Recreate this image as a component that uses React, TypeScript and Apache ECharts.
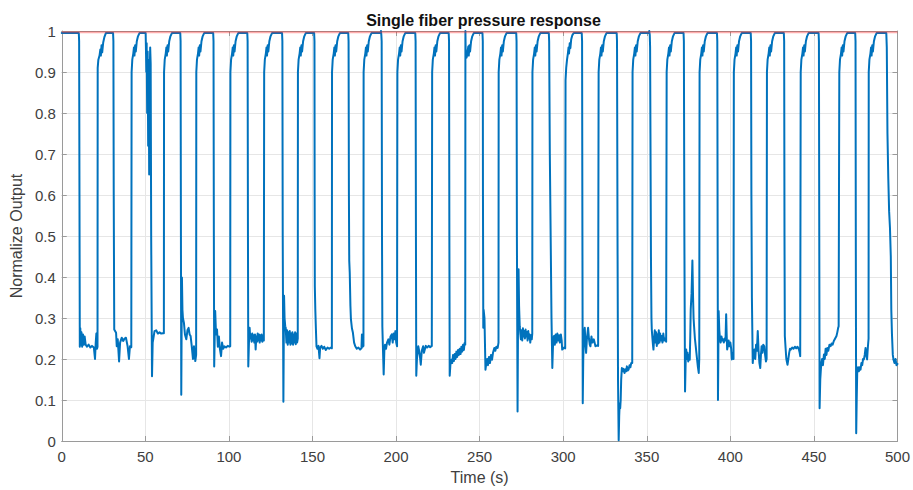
import React, { useEffect, useRef } from "react";
import * as echarts from "echarts";

const FONT = "'Liberation Sans', Arial, Helvetica, sans-serif";

const chartTitle = "Single fiber pressure response";
const xName = "Time (s)";
const yName = "Normalize Output";
const xMin = 0, xMax = 500, xStep = 50;
const yMin = 0, yMax = 1, yStep = 0.1;
const referenceLevel = 0.997;

// signal: [time (s), normalized output]
const segment0to100: number[][] = [
  [0,0.995],[10.2,0.995],[10.4,0.975],[10.6,0.6],[10.8,0.23],[11.1,0.275],[11.4,0.235],[11.8,0.265],[12.2,0.23],[12.7,0.26],[13.2,0.235],[13.7,0.255],[14.3,0.235],[15.1,0.23],[16.1,0.235],[17.1,0.228],[18.1,0.232],[19.2,0.228],[19.9,0.2],[20.3,0.238],[20.7,0.262],[21.1,0.225],[21.4,0.23],
  [21.5,0.91],[21.9,0.93],[22.6,0.94],[23.1,0.955],[23.4,0.94],[23.8,0.965],[24.2,0.948],[24.8,0.972],[25.5,0.985],[26.4,0.995],
  [30.7,0.995],[30.9,0.975],[31.1,0.6],[31.4,0.272],[32.5,0.264],[32.9,0.231],[33.5,0.248],[34.3,0.194],[34.9,0.24],[35.9,0.252],[36.8,0.244],[37.6,0.25],[38.4,0.252],[39.4,0.231],[40.2,0.2],[40.8,0.231],[41.6,0.229],
  [41.8,0.9],[42.2,0.93],[42.8,0.945],[43.2,0.96],[43.5,0.94],[43.9,0.965],[44.3,0.95],[44.9,0.975],[45.6,0.987],[46.5,0.995],
  [50.2,0.995],[50.4,0.95],[50.6,0.9],[50.8,0.97],[51.1,0.8],[51.4,0.95],[51.7,0.72],[52.0,0.93],[52.3,0.65],[52.6,0.88],[52.9,0.96],[53.2,0.92],[53.5,0.5],[54.0,0.158],[54.4,0.24],[54.8,0.25],[55.5,0.268],[56.5,0.27],[57.5,0.262],[58.5,0.265],[59.5,0.262],[60.5,0.263],[61.1,0.263],
  [61.2,0.9],[61.6,0.93],[62.2,0.945],[62.6,0.96],[62.9,0.94],[63.3,0.965],[63.7,0.95],[64.3,0.975],[65.0,0.987],[65.9,0.995],
  [70.9,0.995],[71.1,0.975],[71.3,0.5],[71.5,0.113],[71.9,0.399],[72.2,0.32],[72.5,0.3],[73.1,0.288],[73.7,0.26],[74.5,0.248],[75.2,0.27],[75.9,0.276],[76.5,0.26],[77.1,0.256],[77.8,0.23],[78.5,0.2],[79.1,0.231],[79.9,0.195],[80.4,0.21],
  [80.5,0.9],[80.9,0.93],[81.5,0.945],[81.9,0.96],[82.2,0.94],[82.6,0.965],[83.0,0.95],[83.6,0.975],[84.3,0.987],[85.2,0.995],
  [90.6,0.995],[90.8,0.975],[91.0,0.5],[91.2,0.182],[91.5,0.25],[91.8,0.317],[92.3,0.26],[92.9,0.272],[93.4,0.23],[94.0,0.255],[94.6,0.225],[95.3,0.207],[95.9,0.24],[96.6,0.225],[97.3,0.231],[98.3,0.228],[99.3,0.232],[100.3,0.23],[100.8,0.231],
];

const segment100to200: number[][] = [
  [100.9,0.9],[101.3,0.93],[101.9,0.945],[102.3,0.96],[102.6,0.94],[103.0,0.965],[103.4,0.95],[104.0,0.975],[104.7,0.987],[105.6,0.995],
  [111.0,0.995],[111.2,0.975],[111.4,0.5],[111.6,0.182],[112.0,0.24],[112.4,0.276],[112.8,0.25],[113.2,0.26],[113.6,0.242],[114.0,0.262],[114.4,0.245],[114.8,0.258],[115.2,0.24],[115.6,0.26],[116.0,0.223],[116.4,0.255],[116.8,0.242],[117.2,0.262],[117.6,0.245],[118.0,0.26],[118.4,0.24],[118.8,0.258],[119.2,0.245],[119.6,0.26],[120.0,0.242],[120.4,0.256],[120.9,0.245],
  [121.1,0.9],[121.5,0.93],[122.1,0.945],[122.5,0.96],[122.8,0.94],[123.2,0.965],[123.6,0.95],[124.2,0.975],[124.9,0.987],[125.8,0.995],
  [131.8,0.995],[132.0,0.975],[132.2,0.5],[132.6,0.096],[133.0,0.354],[133.3,0.3],[133.7,0.28],[134.0,0.276],[134.4,0.24],[134.8,0.27],[135.2,0.235],[135.6,0.265],[136.0,0.24],[136.4,0.268],[136.8,0.235],[137.2,0.262],[137.6,0.238],[138.0,0.265],[138.4,0.235],[138.8,0.26],[139.2,0.24],[139.6,0.265],[140.0,0.236],[140.4,0.262],[140.8,0.24],[141.2,0.25],
  [141.3,0.9],[141.7,0.93],[142.3,0.945],[142.7,0.96],[143.0,0.94],[143.4,0.965],[143.8,0.95],[144.4,0.975],[145.1,0.987],[146.0,0.995],
  [151.0,0.995],[151.2,0.975],[151.3,0.6],[151.4,0.378],[151.7,0.32],[152.0,0.28],[152.4,0.231],[153.0,0.225],[153.6,0.232],[154.2,0.202],[154.6,0.228],[155.4,0.232],[156.2,0.225],[157.0,0.23],[158.0,0.222],[159.0,0.228],[160.0,0.225],[161.0,0.228],[161.6,0.226],
  [161.7,0.9],[162.1,0.93],[162.7,0.945],[163.1,0.96],[163.4,0.94],[163.8,0.965],[164.2,0.95],[164.8,0.975],[165.5,0.987],[166.4,0.995],
  [171.4,0.995],[171.6,0.975],[171.8,0.6],[172.0,0.44],[172.3,0.41],[172.7,0.33],[173.0,0.297],[173.6,0.275],[174.2,0.264],[174.9,0.24],[175.6,0.231],[176.5,0.225],[177.5,0.228],[178.5,0.223],[179.3,0.226],[179.6,0.26],[180.0,0.23],[180.5,0.232],
  [180.6,0.9],[181.0,0.93],[181.6,0.945],[182.0,0.96],[182.3,0.94],[182.7,0.965],[183.1,0.95],[183.7,0.975],[184.4,0.987],[185.3,0.995],
  [190.8,0.995],[191.0,1.0],[191.2,0.99],[191.4,0.975],[191.6,0.5],[191.8,0.28],[192.2,0.22],[192.6,0.162],[193.0,0.22],[193.4,0.235],[194.0,0.225],[194.6,0.24],[195.4,0.248],[196.0,0.235],[196.7,0.255],[197.4,0.26],[198.0,0.24],[198.5,0.262],[199.0,0.248],[199.6,0.268],[200.1,0.24],[200.6,0.231],
];

const segment200to300: number[][] = [
  [200.8,0.9],[201.2,0.93],[201.8,0.945],[202.2,0.96],[202.5,0.94],[202.9,0.965],[203.3,0.95],[203.9,0.975],[204.6,0.987],[205.5,0.995],
  [211.5,0.995],[211.7,0.975],[211.9,0.5],[212.1,0.159],[212.5,0.2],[212.9,0.215],[213.3,0.231],[213.8,0.22],[214.2,0.21],[214.8,0.186],[215.4,0.22],[216.2,0.231],[216.7,0.215],[217.2,0.223],[217.8,0.232],[218.6,0.228],[219.5,0.232],[220.4,0.229],[221.4,0.232],
  [221.6,0.9],[222.0,0.93],[222.6,0.945],[223.0,0.96],[223.3,0.94],[223.7,0.965],[224.1,0.95],[224.7,0.975],[225.4,0.987],[226.3,0.995],
  [231.5,0.995],[231.7,0.975],[231.9,0.5],[232.1,0.159],[232.5,0.185],[233.1,0.198],[233.6,0.19],[234.1,0.21],[234.6,0.195],[235.1,0.212],[235.6,0.2],[236.1,0.218],[236.6,0.205],[237.1,0.222],[237.6,0.21],[238.1,0.225],[238.6,0.212],[239.1,0.23],[239.6,0.218],[240.1,0.235],[240.6,0.222],[241.0,0.239],[241.4,0.235],
  [241.5,1.0],[241.7,0.94],[242.2,0.935],[242.8,0.95],[243.2,0.962],[243.5,0.94],[243.9,0.965],[244.3,0.95],[244.9,0.975],[245.6,0.987],[246.5,0.995],
  [251.7,0.995],[251.9,0.975],[252.0,0.6],[252.2,0.276],[252.4,0.32],[252.9,0.3],[253.5,0.174],[254.0,0.19],[254.5,0.2],[255.0,0.185],[255.6,0.205],[256.2,0.19],[256.8,0.21],[257.4,0.198],[258.0,0.215],[258.8,0.227],[259.4,0.22],[260.0,0.23],[260.8,0.227],[261.3,0.24],
  [261.4,0.9],[261.8,0.93],[262.4,0.945],[262.8,0.96],[263.1,0.94],[263.5,0.965],[263.9,0.95],[264.5,0.975],[265.2,0.987],[266.1,0.995],
  [271.9,0.995],[272.1,0.975],[272.3,0.5],[272.7,0.072],[273.0,0.3],[273.3,0.419],[273.6,0.33],[274.0,0.28],[274.3,0.264],[274.7,0.248],[275.1,0.27],[275.5,0.245],[275.9,0.275],[276.3,0.255],[276.7,0.268],[277.1,0.25],[277.5,0.272],[277.9,0.255],[278.3,0.265],[278.7,0.245],[279.1,0.268],[279.5,0.25],[279.9,0.26],[280.3,0.24],[280.7,0.258],[281.2,0.248],[281.5,0.262],
  [281.6,0.9],[282.0,0.93],[282.6,0.945],[283.0,0.96],[283.3,0.94],[283.7,0.965],[284.1,0.95],[284.7,0.975],[285.4,0.987],[286.3,0.995],
  [291.4,0.995],[291.6,0.975],[292.0,0.7],[292.6,0.46],[293.0,0.3],[293.5,0.178],[293.8,0.22],[294.1,0.25],[294.5,0.256],[295.0,0.235],[295.5,0.26],[296.0,0.24],[296.5,0.262],[297.0,0.245],[297.5,0.258],[298.0,0.24],[298.6,0.26],[299.1,0.245],[299.4,0.223],[299.9,0.225],
];

const segment300to400: number[][] = [
  [300.5,0.228],[301.2,0.226],
  [301.4,0.88],[301.8,0.91],[302.3,0.93],[302.8,0.945],[303.2,0.96],[303.5,0.945],[303.9,0.97],[304.3,0.958],[304.8,0.98],[305.5,0.99],[306.3,0.995],
  [311.1,0.995],[311.3,0.975],[311.5,0.5],[311.7,0.092],[312.0,0.2],[312.4,0.25],[312.9,0.276],[313.3,0.24],[313.7,0.215],[314.2,0.25],[314.9,0.276],[315.4,0.25],[315.9,0.235],[316.3,0.231],[316.9,0.255],[317.5,0.24],[318.3,0.248],[318.8,0.24],[319.3,0.231],[320.0,0.233],[320.9,0.232],
  [321.2,0.9],[321.6,0.93],[322.2,0.945],[322.6,0.96],[322.9,0.94],[323.3,0.965],[323.7,0.95],[324.3,0.975],[325.0,0.987],[325.9,0.995],
  [332.0,0.995],[332.2,0.975],[332.5,0.5],[332.8,0.15],[333.2,0.002],[333.5,0.06],[333.8,0.092],[334.1,0.08],[334.4,0.1],[334.7,0.15],[335.1,0.178],[335.6,0.17],[336.1,0.176],[336.7,0.166],[337.3,0.175],[337.7,0.17],[338.1,0.182],[338.6,0.172],[339.1,0.174],[339.7,0.185],[340.2,0.18],[340.7,0.19],[341.3,0.19],
  [341.5,0.9],[341.9,0.93],[342.5,0.945],[342.9,0.96],[343.2,0.94],[343.6,0.965],[344.0,0.95],[344.6,0.975],[345.3,0.987],[346.2,0.995],
  [351.3,0.995],[351.5,1.0],[351.8,0.99],[352.0,0.96],[352.2,0.75],[352.5,0.45],[352.8,0.3],[353.0,0.272],[353.4,0.25],[353.7,0.235],[354.0,0.223],[354.4,0.25],[354.8,0.27],[355.2,0.24],[355.6,0.265],[356.0,0.232],[356.4,0.26],[356.8,0.238],[357.2,0.27],[357.6,0.24],[358.0,0.262],[358.5,0.245],[358.9,0.256],[359.4,0.24],[359.9,0.262],[360.4,0.245],[360.9,0.25],[361.6,0.242],
  [361.9,0.9],[362.3,0.93],[362.9,0.945],[363.3,0.96],[363.6,0.94],[364.0,0.965],[364.4,0.95],[365.0,0.975],[365.7,0.987],[366.6,0.995],
  [372.0,0.995],[372.2,0.975],[372.5,0.5],[372.9,0.121],[373.3,0.2],[373.6,0.223],[374.0,0.2],[374.4,0.215],[374.8,0.194],[375.2,0.21],[375.7,0.198],[376.0,0.25],[376.3,0.321],[376.8,0.36],[377.3,0.44],[377.7,0.35],[378.0,0.3],[378.3,0.28],[378.8,0.25],[379.3,0.231],[379.7,0.215],[380.1,0.199],[380.6,0.18],[381.1,0.166],[381.4,0.2],
  [381.6,0.9],[382.0,0.93],[382.6,0.945],[383.0,0.96],[383.3,0.94],[383.7,0.965],[384.1,0.95],[384.7,0.975],[385.4,0.987],[386.3,0.995],
  [392.0,0.995],[392.2,0.975],[392.4,0.5],[392.6,0.1],[392.8,0.2],[393.0,0.317],[393.4,0.27],[393.8,0.25],[394.2,0.24],[394.7,0.255],[395.2,0.245],[395.6,0.248],[396.1,0.24],[396.6,0.25],[397.1,0.245],[397.5,0.309],[397.8,0.26],[398.1,0.223],[398.6,0.235],[399.0,0.245],[399.5,0.231],
];

const segment400to500: number[][] = [
  [400.0,0.24],[400.5,0.225],[400.9,0.199],[401.5,0.215],[401.9,0.2],
  [402.1,0.9],[402.5,0.93],[403.1,0.945],[403.5,0.96],[403.8,0.94],[404.2,0.965],[404.6,0.95],[405.2,0.975],[405.9,0.987],[406.8,0.995],
  [412.2,0.995],[412.4,0.975],[412.6,0.6],[412.9,0.35],[413.4,0.19],[413.8,0.21],[414.4,0.223],[414.9,0.2],[415.4,0.235],[415.9,0.22],[416.4,0.268],[416.9,0.22],[417.4,0.19],[417.9,0.178],[418.3,0.21],[418.7,0.231],[419.2,0.215],[419.7,0.235],[420.3,0.231],[420.8,0.21],[421.3,0.194],[421.7,0.2],
  [421.9,0.9],[422.3,0.93],[422.9,0.945],[423.3,0.96],[423.6,0.94],[424.0,0.965],[424.4,0.95],[425.0,0.975],[425.7,0.987],[426.6,0.995],
  [432.0,0.995],[432.2,0.975],[432.4,0.5],[432.6,0.256],[433.0,0.23],[433.5,0.2],[434.2,0.186],[434.7,0.2],[435.2,0.215],[435.7,0.225],[436.2,0.223],[437.0,0.228],[437.8,0.225],[438.6,0.23],[439.4,0.226],[440.2,0.23],[441.0,0.224],[441.5,0.215],[441.8,0.207],
  [442.1,0.9],[442.5,0.93],[443.1,0.945],[443.5,0.96],[443.8,0.94],[444.2,0.965],[444.6,0.95],[445.2,0.975],[445.9,0.987],[446.8,0.995],
  [452.8,0.995],[453.0,0.975],[453.2,0.5],[453.4,0.08],[453.8,0.15],[454.4,0.19],[454.9,0.2],[455.4,0.185],[456.0,0.211],[456.5,0.2],[457.0,0.225],[457.5,0.21],[458.0,0.227],[458.6,0.22],[459.3,0.235],[460.0,0.231],[460.6,0.238],[461.2,0.235],[461.9,0.244],[462.7,0.25],[463.5,0.256],[464.0,0.265],[464.5,0.276],[464.8,0.28],
  [465.0,0.6],[465.2,0.9],[465.6,0.93],[466.2,0.945],[466.6,0.96],[466.9,0.94],[467.3,0.965],[467.7,0.95],[468.3,0.975],[469.0,0.987],[469.9,0.995],
  [474.7,0.995],[474.9,0.975],[475.1,0.4],[475.3,0.019],[475.6,0.1],[475.9,0.166],[476.4,0.18],[476.9,0.17],[477.4,0.18],[477.9,0.174],[478.4,0.19],[478.9,0.185],[479.4,0.2],[479.9,0.199],[480.4,0.21],[480.9,0.227],[481.3,0.21],[481.8,0.199],[482.3,0.23],[482.7,0.25],
  [482.8,0.9],[483.2,0.93],[483.8,0.945],[484.2,0.96],[484.5,0.94],[484.9,0.965],[485.3,0.95],[485.9,0.975],[486.6,0.987],[487.5,0.995],
  [493.3,0.995],[493.6,0.96],[494.0,0.75],[494.5,0.64],[495.0,0.56],[495.5,0.52],[496.0,0.45],[496.3,0.32],[496.7,0.26],[497.2,0.21],[497.6,0.199],[498.2,0.19],[498.8,0.2],[499.4,0.185],[500,0.188],
];

const signal = [
  ...segment0to100,
  ...segment100to200,
  ...segment200to300,
  ...segment300to400,
  ...segment400to500,
];

const AXIS_COLOR = "#9a9a9a";
const GRID_COLOR = "#e6e6e6";
const LABEL_COLOR = "#404040";

export default function App() {
  const ref = useRef<HTMLDivElement>(null);

  useEffect(() => {
    if (!ref.current) return;
    const chart = echarts.init(ref.current, undefined, { renderer: "svg" });

    const baseX = {
      type: "value" as const,
      min: xMin,
      max: xMax,
      interval: xStep,
      axisLine: { show: true, onZero: false, lineStyle: { color: AXIS_COLOR, width: 1 } },
      axisTick: { show: true, inside: true, length: 5, lineStyle: { color: AXIS_COLOR } },
    };
    const baseY = {
      type: "value" as const,
      min: yMin,
      max: yMax,
      interval: yStep,
      axisLine: { show: true, onZero: false, lineStyle: { color: AXIS_COLOR, width: 1 } },
      axisTick: { show: true, inside: true, length: 5, lineStyle: { color: AXIS_COLOR } },
    };

    chart.setOption({
      animation: false,
      backgroundColor: "#ffffff",
      title: {
        text: chartTitle,
        left: 478.5,
        top: 7,
        textAlign: "center",
        textStyle: { fontFamily: FONT, fontSize: 16, fontWeight: "bold", color: "#111" },
      },
      grid: { left: 58, right: 14, top: 31, bottom: 49, show: false },
      xAxis: [
        {
          ...baseX,
          position: "bottom",
          name: xName,
          nameLocation: "middle",
          nameGap: 28,
          nameTextStyle: { fontFamily: FONT, fontSize: 16, color: LABEL_COLOR },
          axisLabel: { fontFamily: FONT, fontSize: 15, color: LABEL_COLOR, margin: 8 },
          splitLine: { show: true, lineStyle: { color: GRID_COLOR, width: 1 } },
        },
        {
          ...baseX,
          position: "top",
          axisLabel: { show: false },
          splitLine: { show: false },
        },
      ],
      yAxis: [
        {
          ...baseY,
          position: "left",
          name: yName,
          nameLocation: "middle",
          nameGap: 26,
          nameTextStyle: { fontFamily: FONT, fontSize: 16, color: LABEL_COLOR },
          axisLabel: { fontFamily: FONT, fontSize: 15, color: LABEL_COLOR, margin: 6 },
          splitLine: { show: true, lineStyle: { color: GRID_COLOR, width: 1 } },
        },
        {
          ...baseY,
          position: "right",
          axisLabel: { show: false },
          splitLine: { show: false },
        },
      ],
      series: [
        {
          type: "line",
          data: signal,
          xAxisIndex: 0,
          yAxisIndex: 0,
          symbol: "none",
          showSymbol: false,
          lineStyle: { color: "#0072BD", width: 2, join: "round", cap: "round" },
          itemStyle: { color: "#0072BD" },
          z: 2,
        },
        {
          type: "line",
          data: [[xMin, referenceLevel], [xMax, referenceLevel]],
          xAxisIndex: 0,
          yAxisIndex: 0,
          symbol: "none",
          showSymbol: false,
          lineStyle: { color: "rgba(255,40,40,0.38)", width: 2 },
          itemStyle: { color: "rgba(255,40,40,0.38)" },
          z: 3,
        },
      ],
    });

    return () => chart.dispose();
  }, []);

  return (
    <div
      ref={ref}
      style={{ position: "fixed", left: 0, top: 0, width: 913, height: 490, background: "#fff" }}
    />
  );
}
